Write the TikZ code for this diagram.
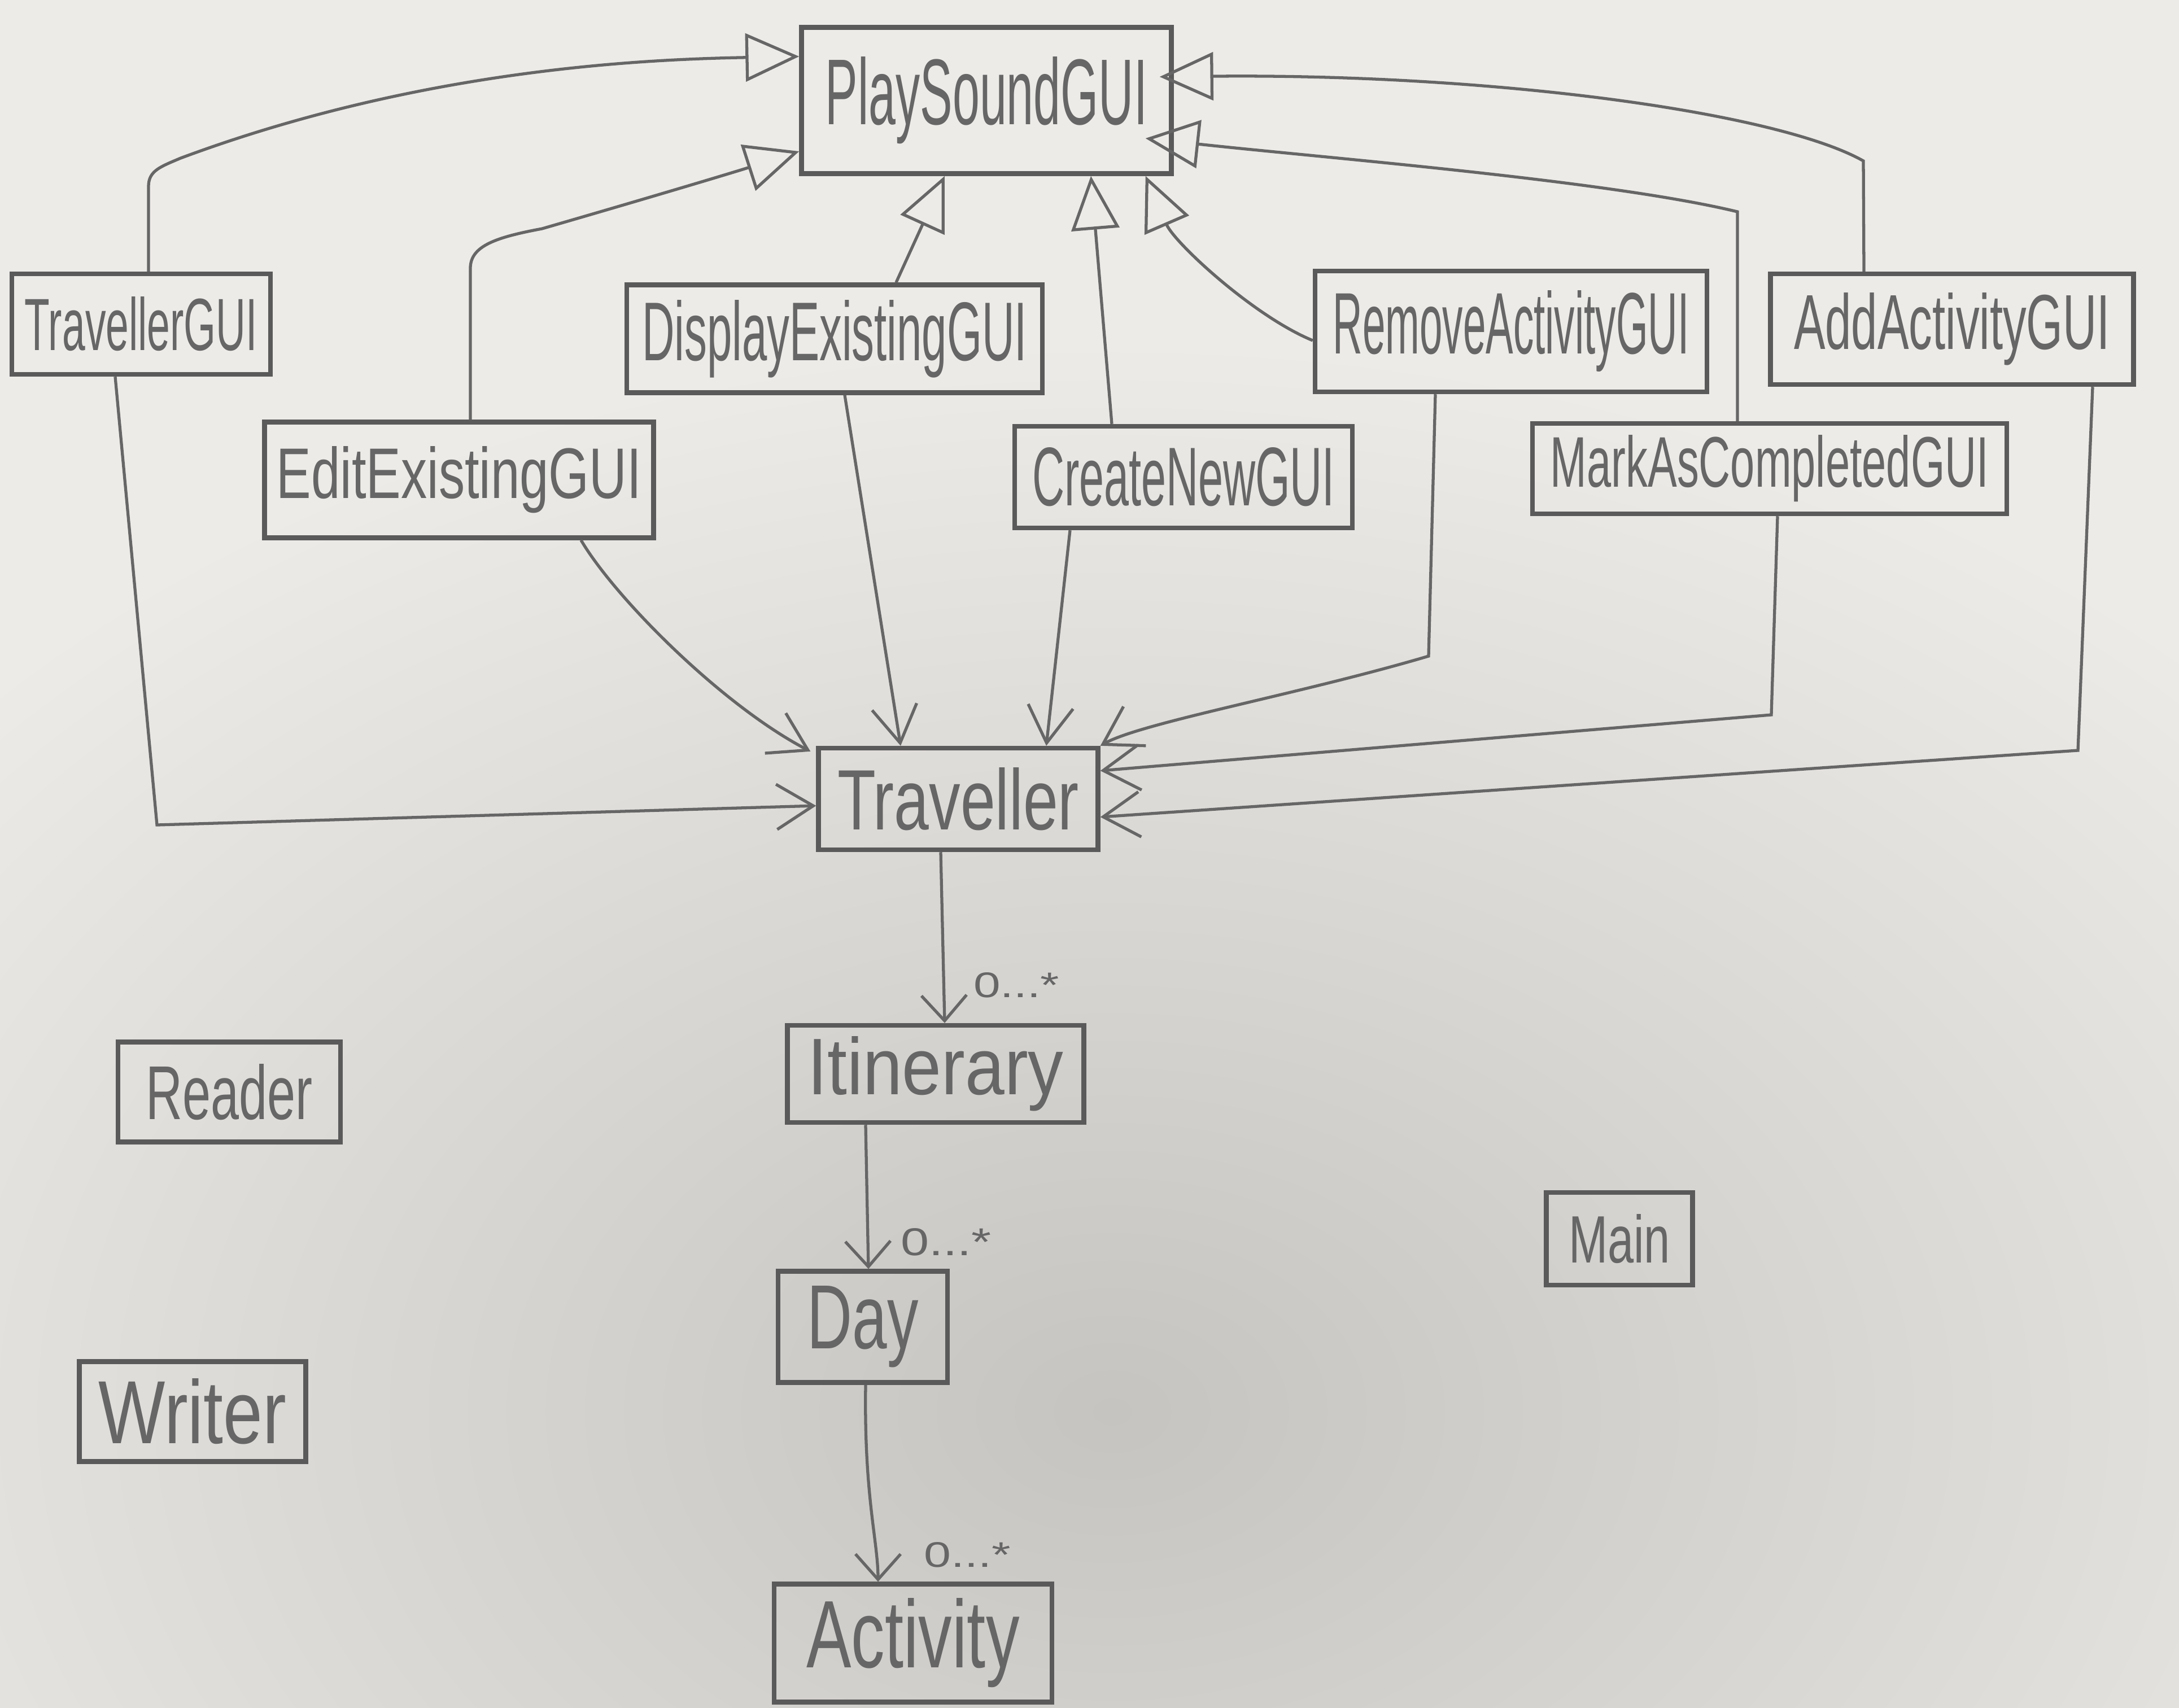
\documentclass[tikz,border=0pt]{standalone}
\usepackage{fontspec}
\setmainfont{Liberation Sans}
\usepackage{graphicx}
\usetikzlibrary{arrows.meta,calc}
\definecolor{paper}{RGB}{237,235,232}
\definecolor{shadowc}{RGB}{198,196,193}
\definecolor{pencil}{RGB}{102,102,102}
\definecolor{pencilbox}{RGB}{90,90,90}
\newcommand{\hw}[3]{\resizebox{#1}{#2}{#3}}
\begin{document}
\begin{tikzpicture}[
  cls/.style={draw=pencilbox, line width=2.4pt, rectangle, inner sep=0pt, text=pencil},
  gen/.style={draw=pencil, line width=1.5pt, -{Triangle[open, length=0.95cm, width=0.85cm, line width=1.5pt]}},
  dep/.style={draw=pencil, line width=1.5pt, -{Straight Barb[length=0.65cm, width=0.8cm, line width=1.5pt]}},
  asc/.style={draw=pencil, line width=1.5pt, -{Straight Barb[length=0.45cm, width=0.8cm, line width=1.5pt]}},
  mult/.style={text=pencil, inner sep=0pt},
]
\useasboundingbox (0,0) rectangle (38.59,-30.24);
\fill[paper] (0,0) rectangle (38.59,-30.24);
\begin{scope}
  \clip (0,0) rectangle (38.59,-30.24);
  \shade[inner color=shadowc, outer color=paper] (19.7,-25) ellipse (27 and 19);
\end{scope}

% classes
\node[cls, minimum width=6.55cm, minimum height=2.59cm] (psg) at (17.47,-1.78) {\hw{5.7cm}{1.2cm}{PlaySoundGUI}};
\node[cls, minimum width=4.58cm, minimum height=1.78cm] (tgui) at (2.50,-5.74) {\hw{4.12cm}{0.95cm}{TravellerGUI}};
\node[cls, minimum width=7.36cm, minimum height=1.91cm] (disp) at (14.78,-6.00) {\hw{6.82cm}{1.07cm}{DisplayExistingGUI}};
\node[cls, minimum width=6.94cm, minimum height=2.14cm] (remove) at (26.76,-5.87) {\hw{6.31cm}{1.12cm}{RemoveActivityGUI}};
\node[cls, minimum width=6.43cm, minimum height=1.96cm] (add) at (34.57,-5.83) {\hw{5.60cm}{1.00cm}{AddActivityGUI}};
\node[cls, minimum width=6.89cm, minimum height=2.05cm] (edit) at (8.13,-8.50) {\hw{6.46cm}{0.92cm}{EditExistingGUI}};
\node[cls, minimum width=5.98cm, minimum height=1.80cm] (create) at (20.96,-8.45) {\hw{5.36cm}{1.03cm}{CreateNewGUI}};
\node[cls, minimum width=8.40cm, minimum height=1.60cm] (mark) at (31.34,-8.30) {\hw{7.76cm}{0.92cm}{MarkAsCompletedGUI}};
\node[cls, minimum width=4.95cm, minimum height=1.80cm] (trav) at (16.97,-14.15) {\hw{4.28cm}{1.10cm}{Traveller}};
\node[cls, minimum width=5.25cm, minimum height=1.72cm] (itin) at (16.57,-19.02) {\hw{4.53cm}{1.03cm}{Itinerary}};
\node[cls, minimum width=3.00cm, minimum height=1.97cm] (day) at (15.28,-23.50) {\hw{1.97cm}{1.11cm}{Day}};
\node[cls, minimum width=4.92cm, minimum height=2.09cm] (act) at (16.17,-29.10) {\hw{3.77cm}{1.23cm}{Activity}};
\node[cls, minimum width=3.94cm, minimum height=1.77cm] (reader) at (4.06,-19.34) {\hw{2.95cm}{0.98cm}{Reader}};
\node[cls, minimum width=4.01cm, minimum height=1.77cm] (writer) at (3.41,-25.00) {\hw{3.32cm}{1.15cm}{Writer}};
\node[cls, minimum width=2.59cm, minimum height=1.64cm] (main) at (28.68,-21.94) {\hw{1.80cm}{0.86cm}{Main}};

% generalizations
\draw[gen] ([xshift=0.13cm]tgui.north) -- (2.63,-3.30) .. controls (2.63,-3.02) and (2.85,-2.95) .. (3.20,-2.80) .. controls (7.5,-1.2) and (11.5,-1.05) .. ([yshift=0.78cm]psg.west);
\draw[gen] ([xshift=0.20cm]edit.north) -- (8.33,-4.75) .. controls (8.33,-4.35) and (8.8,-4.2) .. (9.6,-4.05) .. controls (11.5,-3.5) and (13,-3.05) .. ([yshift=-0.9cm]psg.west);
\draw[gen] ([xshift=1.09cm]disp.north) -- ([xshift=-0.74cm]psg.south);
\draw[gen] ([xshift=-1.27cm]create.north) -- ([xshift=1.85cm]psg.south);
\draw[gen] ([yshift=-0.16cm]remove.west) .. controls (22.2,-5.6) and (20.8,-4.3) .. ([xshift=-0.5cm]psg.south east);
\draw[gen] ([xshift=-0.57cm]mark.north) -- (30.77,-3.75) .. controls (28.5,-3.2) and (23.5,-2.8) .. ([xshift=-0.5cm,yshift=-0.67cm]psg.east);
\draw[gen] ([xshift=-1.56cm]add.north) -- (33.0,-2.85) .. controls (31.5,-2.0) and (26.5,-1.3) .. ([xshift=-0.25cm,yshift=0.42cm]psg.east);

% dependencies
\draw[dep] ([xshift=-0.46cm]tgui.south) -- (2.78,-14.61) -- ([yshift=-0.12cm]trav.west);
\draw[dep] ([xshift=2.16cm]edit.south) .. controls (10.9,-10.6) and (12.8,-12.5) .. ([xshift=-0.1cm,yshift=-0.1cm]trav.north west);
\draw[dep] ([xshift=0.18cm]disp.south) -- ([xshift=-1.02cm]trav.north);
\draw[dep] ([xshift=-2.01cm]create.south) -- ([xshift=1.56cm]trav.north);
\draw[dep] ([xshift=-1.34cm]remove.south) -- (25.30,-11.62) .. controls (23.0,-12.3) and (20.2,-12.8) .. (trav.north east);
\draw[dep] ([xshift=0.14cm]mark.south) -- (31.37,-12.66) -- ([yshift=0.5cm]trav.east);
\draw[dep] ([xshift=2.49cm]add.south) -- (36.80,-13.29) -- ([yshift=-0.32cm]trav.east);

% associations
\draw[asc] ([xshift=-0.31cm]trav.south) -- ([xshift=0.16cm]itin.north);
\draw[asc] ([xshift=-1.24cm]itin.south) -- ([xshift=0.1cm]day.north);
\draw[asc] ([xshift=0.05cm]day.south) .. controls (15.3,-26.5) and (15.55,-27.3) .. ([xshift=-0.62cm]act.north);

\node[mult] (m1) at (18.0,-17.45) {\hw{1.52cm}{0.44cm}{0...*}};
\node[mult] (m2) at (16.75,-22.0) {\hw{1.60cm}{0.48cm}{0...*}};
\node[mult] (m3) at (17.13,-27.54) {\hw{1.53cm}{0.44cm}{0...*}};
\end{tikzpicture}
\end{document}
